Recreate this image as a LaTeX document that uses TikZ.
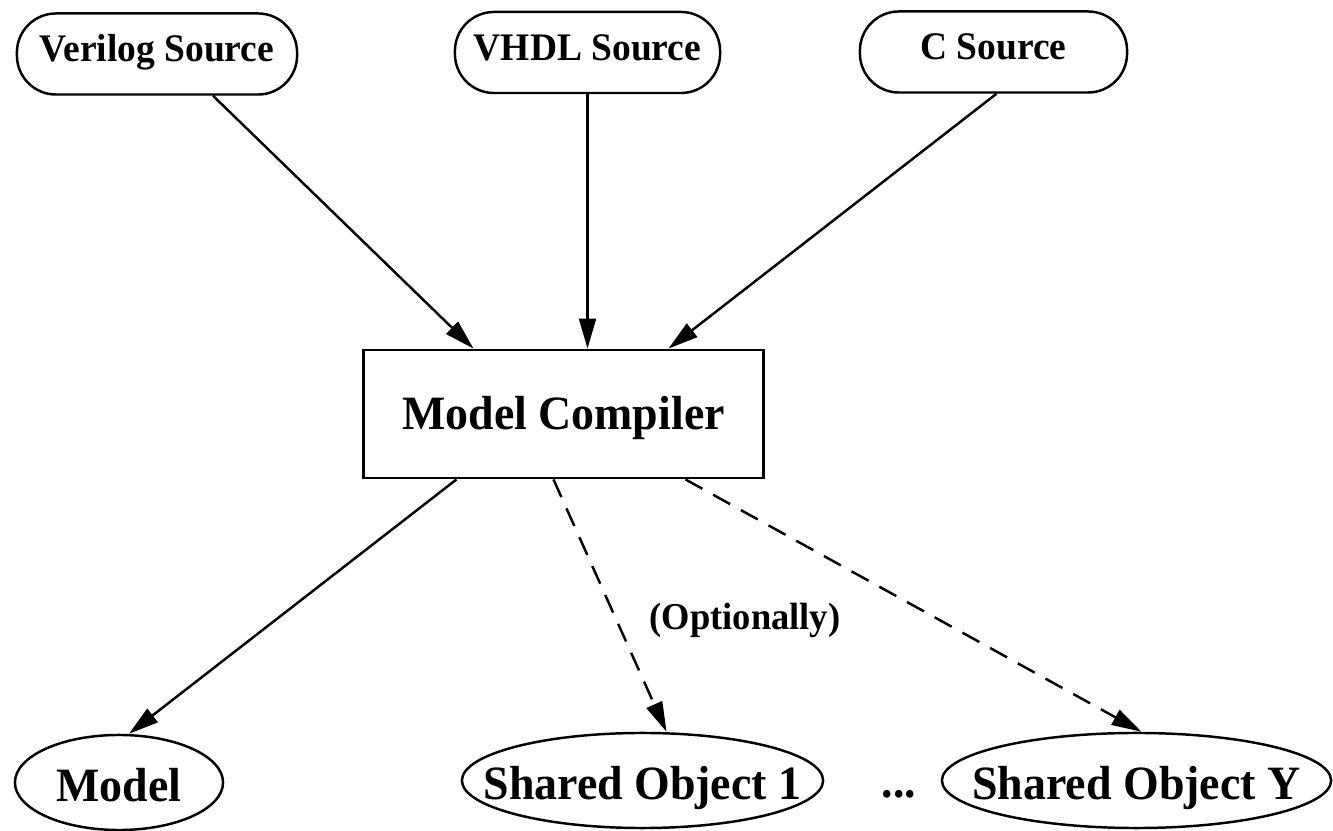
\documentclass[tikz,border=0pt]{standalone}
\usepackage{fontspec}
\setmainfont{Liberation Serif}[FakeStretch=0.96]
\usetikzlibrary{arrows.meta,shapes.geometric,calc}

\begin{document}
\begin{tikzpicture}[
    x=0.01cm,y=-0.01cm,
    src/.style={draw,line width=0.7pt,rounded corners=0.39cm,inner sep=0pt,
      minimum height=0.81cm,text height=7.5pt,text depth=3pt,
      font=\bfseries\fontsize{11.1}{13}\selectfont},
    compbox/.style={draw,line width=0.8pt,inner sep=0pt,minimum width=3.99cm,
      minimum height=1.28cm,text height=9.1pt,text depth=0pt,
      font=\bfseries\fontsize{13.6}{16}\selectfont},
    result/.style={ellipse,draw,line width=0.7pt,inner xsep=-1.5cm,inner ysep=0pt,
      minimum height=0.95cm,text height=11pt,text depth=0pt,
      font=\bfseries\fontsize{13.6}{16}\selectfont},
    arr/.style={-{Triangle[length=8.5pt,width=4.8pt]},line width=0.7pt},
    optarr/.style={arr,dash pattern=on 5.5pt off 3.5pt}
  ]
    \useasboundingbox (0,0) rectangle (1333,831);
    \node[src,minimum width=2.8cm] (veri) at (157,54) {Verilog Source};
    \node[src,minimum width=2.65cm] (vhdl) at (587.5,52.5) {VHDL Source};
    \node[src,minimum width=2.67cm] (csrc) at (993.5,52) {C Source};
    \node[compbox] (comp) at (563.5,414) {Model Compiler};
    \node[result,minimum width=2.08cm] (model) at (119,782.5) {Model};
    \node[result,minimum width=3.61cm] (obj1) at (642.5,780.5) {Shared Object 1};
    \node[result,minimum width=3.89cm] (objy) at (1136.5,780.5) {Shared Object Y};
    \node[anchor=base,inner sep=0pt,font=\bfseries\fontsize{13.6}{16}\selectfont] (dots) at (899,798) {...};
    \node[font=\bfseries\fontsize{10.8}{13}\selectfont] (optlbl) at (745,620) {(Optionally)};
    \draw[arr] ($(veri.south)+(56,0)$) -- ($(comp.north west)+(111,0)$);
    \draw[arr] (vhdl.south) -- (vhdl.south |- comp.north);
    \draw[arr] ($(csrc.south)+(3,0)$) -- ($(comp.north east)+(-96,0)$);
    \draw[arr] ($(comp.south west)+(94,0)$) -- ($(model.north)+(10,0)$);
    \draw[optarr] ($(comp.south west)+(191,0)$) -- ($(obj1.north)+(24,0)$);
    \draw[optarr] ($(comp.south west)+(323,0)$) -- ($(objy.north)+(5,0)$);
  \end{tikzpicture}
\end{document}
